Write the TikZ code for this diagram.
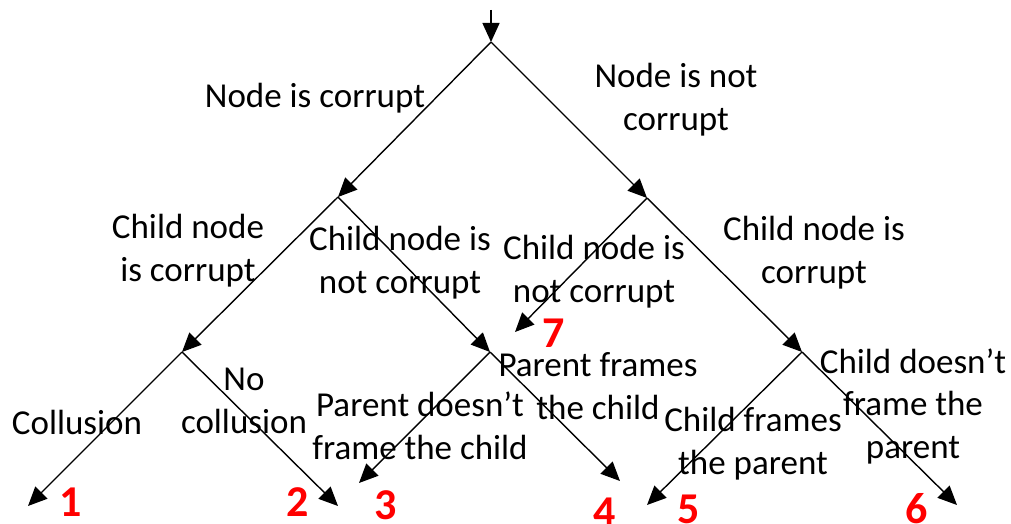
\documentclass[tikz,border=0pt]{standalone}
\usepackage{fontspec}
\setmainfont{Carlito}
\usetikzlibrary{arrows.meta}
\tikzset{
  arr/.style={line width=1.4pt, -{Triangle[length=19pt,width=17pt]}},
  lbl/.style={anchor=base, align=center, inner sep=0pt, font=\fontsize{35}{42.5}\selectfont},
  num/.style={anchor=center, inner sep=0pt, text=red, font=\fontsize{44}{50}\selectfont\bfseries}
}
\begin{document}
\begin{tikzpicture}[x=1pt,y=-1pt]
\useasboundingbox (0,0) rectangle (1011,524);
% junctions
\coordinate (top) at (491,10);
\coordinate (r) at (491,42);
\coordinate (a) at (338,197);
\coordinate (b) at (647,198);
\coordinate (c) at (182,352);
\coordinate (d) at (490,352);
\coordinate (e) at (802,352);
% leaves
\coordinate (l1) at (28,506);
\coordinate (l2) at (338,506);
\coordinate (l3) at (359,483);
\coordinate (l4) at (620,481);
\coordinate (l5) at (647,505);
\coordinate (l6) at (957,505);
\coordinate (l7) at (515,332);
% connectors
\draw[arr] (top) -- (r);
\draw[arr] (r) -- (a);
\draw[arr] (r) -- (b);
\draw[arr] (a) -- (c);
\draw[arr] (a) -- (d);
\draw[arr] (b) -- (l7);
\draw[arr] (b) -- (e);
\draw[arr] (c) -- (l1);
\draw[arr] (c) -- (l2);
\draw[arr] (d) -- (l3);
\draw[arr] (d) -- (l4);
\draw[arr] (e) -- (l5);
\draw[arr] (e) -- (l6);
% labels (anchor = baseline of last line)
\node[lbl] (t1) at (315,108) {Node is corrupt};
\node[lbl] (t2) at (676,130) {Node is not\\corrupt};
\node[lbl] (t3) at (188,281) {Child node\\is corrupt};
\node[lbl] (t4) at (400,293) {Child node is\\not corrupt};
\node[lbl] (t5) at (594,302) {Child node is\\not corrupt};
\node[lbl] (t6) at (814,283) {Child node is\\corrupt};
\node[lbl] (t7) at (77,434) {Collusion};
\node[lbl] (t8) at (244,433) {No\\collusion};
\node[lbl] (t9) at (420,459) {Parent doesn’t\\frame the child};
\node[lbl] (t10) at (598,419) {Parent frames\\the child};
\node[lbl] (t11) at (753,474) {Child frames\\the parent};
\node[lbl] (t12) at (913,458) {Child doesn’t\\frame the\\parent};
% numbers
\node[num] (n1) at (71,502) {1};
\node[num] (n2) at (298,502) {2};
\node[num] (n3) at (386,505) {3};
\node[num] (n4) at (605,512) {4};
\node[num] (n5) at (689,509) {5};
\node[num] (n6) at (917,509) {6};
\node[num] (n7) at (554,333) {7};
\end{tikzpicture}
\end{document}
